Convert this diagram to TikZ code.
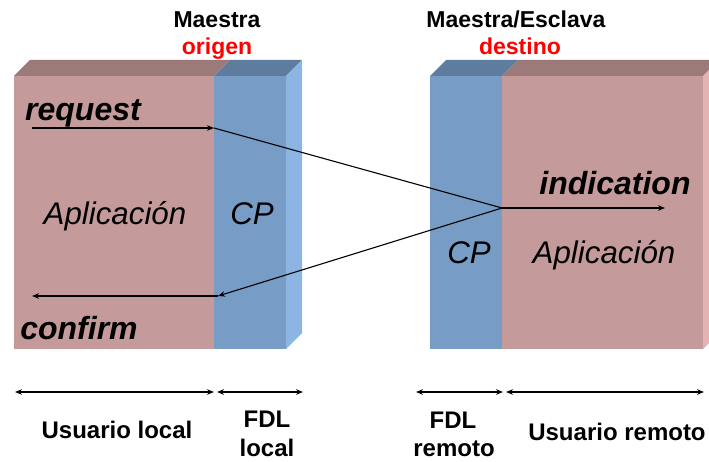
\documentclass[tikz,border=0pt]{standalone}
\usepackage{fontspec}
\setmainfont{Liberation Sans}
\usetikzlibrary{arrows.meta}

\definecolor{appfront}{HTML}{C49B9A}
\definecolor{apptop}{HTML}{9B7A79}
\definecolor{appside}{HTML}{E3B3B3}
\definecolor{cpfront}{HTML}{779DC6}
\definecolor{cptop}{HTML}{5E7D9E}
\definecolor{cpside}{HTML}{8CB5E3}
\definecolor{tagred}{HTML}{FF0000}

\tikzset{
  sig/.style={draw=black, line width=1.1pt, -{Stealth[length=7pt,width=5.5pt]}},
  link/.style={draw=black, line width=1.1pt},
  span/.style={draw=black, line width=1.1pt, {Stealth[length=7pt,width=5.5pt]}-{Stealth[length=7pt,width=5.5pt]}},
  lbl/.style={inner sep=0pt, anchor=base},
  head/.style={lbl, font=\fontsize{23}{27}\selectfont\bfseries},
  inner/.style={lbl, font=\fontsize{31.3}{36}\selectfont\itshape},
  prim/.style={lbl, font=\fontsize{32}{37}\selectfont\bfseries\itshape},
  foot/.style={lbl, font=\fontsize{24}{28}\selectfont\bfseries},
}

\begin{document}
\begin{tikzpicture}[x=1pt, y=-1pt]
  \useasboundingbox (0,0) rectangle (709,462);
  \clip (0,0) rectangle (709,462);

  % local station: application and CP layers
  \fill[apptop] (14,76) -- (30,60) -- (230,60) -- (214,76) -- cycle;
  \fill[cptop] (214,76) -- (230,60) -- (302,60) -- (286,76) -- cycle;
  \fill[cpside] (286,76) -- (302,60) -- (302,333) -- (286,349) -- cycle;
  \fill[appfront] (14,76) rectangle (214,349);
  \fill[cpfront] (214,76) rectangle (286,349);

  % remote station: CP and application layers
  \fill[cptop] (430,76) -- (446,60) -- (518,60) -- (502,76) -- cycle;
  \fill[apptop] (502,76) -- (518,60) -- (719,60) -- (703,76) -- cycle;
  \fill[appside] (703,76) -- (719,60) -- (719,333) -- (703,349) -- cycle;
  \fill[cpfront] (430,76) rectangle (502,349);
  \fill[appfront] (502,76) rectangle (703,349);

  % headings
  \node[head] (m1) at (217,28) {Maestra};
  \node[head, text=tagred] (o1) at (217,55) {origen};
  \node[head] (m2) at (516,28) {Maestra/Esclava};
  \node[head, text=tagred] (d2) at (520,55) {destino};

  % layer names
  \node[inner] (app1) at (115,225) {Aplicación};
  \node[inner] (cp1) at (252,225) {CP};
  \node[inner] (cp2) at (469,264) {CP};
  \node[inner] (app2) at (604,263) {Aplicación};

  % primitive names
  \node[prim] (req) at (83,121) {request};
  \node[prim] (conf) at (79,339) {confirm};
  \node[prim] (ind) at (615,195) {indication};

  % service primitive path
  \coordinate (reqS) at (32,128);
  \coordinate (reqE) at (214,128);
  \coordinate (hub) at (502,208);
  \coordinate (indE) at (665,208);
  \coordinate (cfS) at (218,296);
  \coordinate (cfE) at (32,296);
  \draw[sig] (reqS) -- (reqE);
  \draw[link] (reqE) -- (hub);
  \draw[sig] (hub) -- (indE);
  \draw[sig] (hub) -- (cfS);
  \draw[sig] (cfS) -- (cfE);

  % extent markers
  \coordinate (s1a) at (15,392);
  \coordinate (s1b) at (214,392);
  \coordinate (s2a) at (217,392);
  \coordinate (s2b) at (303,392);
  \coordinate (s3a) at (416,392);
  \coordinate (s3b) at (503,392);
  \coordinate (s4a) at (506,392);
  \coordinate (s4b) at (704,392);
  \draw[span] (s1a) -- (s1b);
  \draw[span] (s2a) -- (s2b);
  \draw[span] (s3a) -- (s3b);
  \draw[span] (s4a) -- (s4b);

  % extent labels
  \node[foot] (ul) at (117,438) {Usuario local};
  \node[foot] (f1) at (267,427) {FDL};
  \node[foot] (l1) at (267,456) {local};
  \node[foot] (f2) at (453,428) {FDL};
  \node[foot] (r2) at (454,456) {remoto};
  \node[foot] (ur) at (617,440) {Usuario remoto};
\end{tikzpicture}
\end{document}
